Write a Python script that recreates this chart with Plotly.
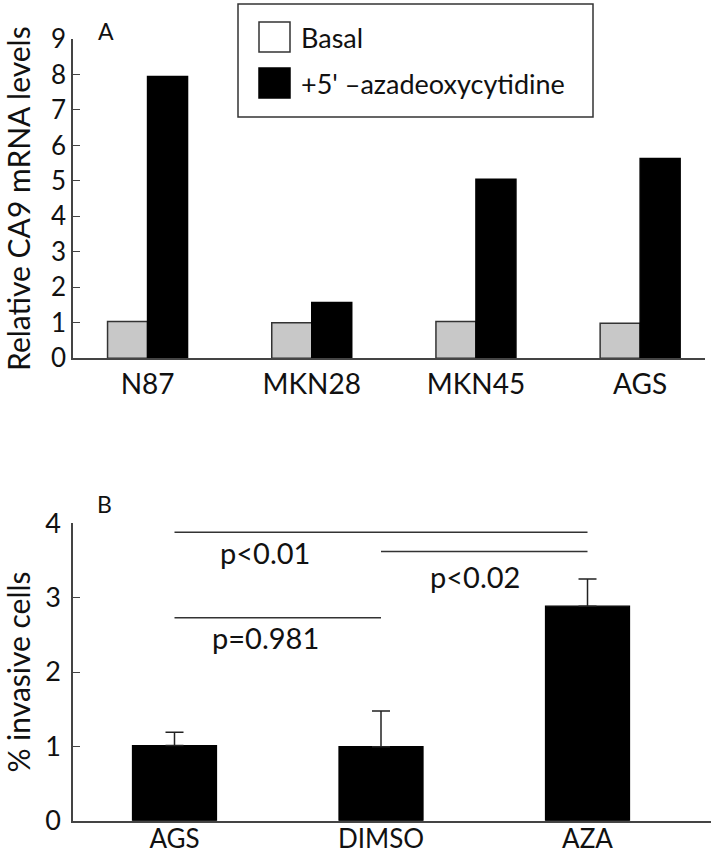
import plotly.graph_objects as go

# ---------------- data ----------------
cell_lines = ["N87", "MKN28", "MKN45", "AGS"]
basal = [1.04, 1.00, 1.04, 0.99]
aza_treated = [7.94, 1.57, 5.05, 5.63]
series_names = ["Basal", "+5' \u2013azadeoxycytidine"]

groups = ["AGS", "DIMSO", "AZA"]
invasive = [1.01, 0.995, 2.885]
invasive_err = [0.18, 0.48, 0.365]

# comparisons: (from group, to group, line level, label, label x, label y)
comparisons = [
    ("AGS", "AZA", 3.88, "p<0.01", 0.44, 3.61),
    ("DIMSO", "AZA", 3.62, "p<0.02", 1.455, 3.28),
    ("AGS", "DIMSO", 2.73, "p=0.981", 0.44, 2.47),
]

W, H = 716, 853
FONT = "Lato"
INK = "#111111"
AX = "#444444"

def px(x):
    return x / W

def py(y):
    return 1 - y / H

fig = go.Figure()

bw = 0.2436
fig.add_trace(go.Bar(
    x=cell_lines, y=basal, name=series_names[0],
    marker=dict(color="#c8c8c8", line=dict(color="#333333", width=1.5)),
    width=bw, offset=-bw, xaxis="x", yaxis="y", showlegend=False))
fig.add_trace(go.Bar(
    x=cell_lines, y=aza_treated, name=series_names[1],
    marker=dict(color="#000000", line=dict(color="#000000", width=1.5)),
    width=bw, offset=0, xaxis="x", yaxis="y", showlegend=False))

fig.add_trace(go.Bar(
    x=groups, y=invasive, name="% invasive",
    marker=dict(color="#000000", line=dict(color="#000000", width=1.2)),
    width=0.407,
    error_y=dict(type="data", array=invasive_err, arrayminus=[0] * len(groups),
                 symmetric=False, color="#222222", thickness=1.5, width=9),
    xaxis="x2", yaxis="y2", showlegend=False))

shapes = []
annotations = []
for a, b, lvl, lab, lx, ly in comparisons:
    shapes.append(dict(type="line", xref="x2", yref="y2",
                       x0=groups.index(a), x1=groups.index(b), y0=lvl, y1=lvl,
                       line=dict(color="#333333", width=1.5)))
    annotations.append(dict(xref="x2", yref="y2", x=lx, y=ly, text=lab,
                            showarrow=False, font=dict(family=FONT, size=29, color=INK)))

# manual legend (large square keys as in the original)
shapes.append(dict(type="rect", xref="paper", yref="paper",
                   x0=px(238), x1=px(593), y0=py(117), y1=py(4),
                   line=dict(color="#333333", width=1.5), fillcolor="white"))
shapes.append(dict(type="rect", xref="paper", yref="paper",
                   x0=px(259), x1=px(290), y0=py(52), y1=py(22),
                   line=dict(color="#333333", width=1.5), fillcolor="white"))
shapes.append(dict(type="rect", xref="paper", yref="paper",
                   x0=px(259), x1=px(290), y0=py(98), y1=py(68),
                   line=dict(color="#000000", width=1.5), fillcolor="black"))
annotations.append(dict(xref="paper", yref="paper", x=px(299), y=py(37),
                        xanchor="left", yanchor="middle", text=series_names[0],
                        showarrow=False, font=dict(family=FONT, size=27, color=INK)))
annotations.append(dict(xref="paper", yref="paper", x=px(299), y=py(83),
                        xanchor="left", yanchor="middle", text=series_names[1],
                        showarrow=False, font=dict(family=FONT, size=27, color=INK)))

annotations.append(dict(xref="paper", yref="paper", x=px(96), y=py(15), text="A",
                        showarrow=False, font=dict(family=FONT, size=23, color=INK)))
annotations.append(dict(xref="paper", yref="paper", x=px(95), y=py(504), text="B",
                        showarrow=False, font=dict(family=FONT, size=23, color=INK)))

axis_common = dict(showline=True, linecolor=AX, linewidth=1.5, showgrid=False,
                   zeroline=False, color=INK, automargin=False)

fig.update_layout(
    template="none",
    width=W, height=H,
    margin=dict(l=0, r=0, t=0, b=0, pad=0, autoexpand=False),
    paper_bgcolor="white", plot_bgcolor="white",
    barmode="overlay",
    showlegend=False,
    font=dict(family=FONT, color=INK),
    xaxis=dict(domain=[px(73), px(705)], anchor="y", range=[-0.454, 3.395],
               ticks="", ticklen=0, tickfont=dict(size=28), **axis_common),
    yaxis=dict(domain=[py(358.3), py(39)], anchor="x", range=[0, 9],
               tickmode="linear", tick0=0, dtick=1, ticks="inside", ticklen=7,
               tickcolor=AX, tickfont=dict(size=26),
               title=dict(text="Relative CA9 mRNA levels", font=dict(size=30), standoff=12),
               **axis_common),
    xaxis2=dict(domain=[px(73), px(711)], anchor="y2", range=[-0.4915, 2.598],
                ticks="", ticklen=0, tickfont=dict(size=26), ticklabelstandoff=-6,
                **axis_common),
    yaxis2=dict(domain=[py(820.7), py(523.3)], anchor="x2", range=[0, 4],
                tickmode="linear", tick0=0, dtick=1, ticks="inside", ticklen=7,
                tickcolor=AX, tickfont=dict(size=27), ticklabelstandoff=5,
                title=dict(text="% invasive cells", font=dict(size=30), standoff=18),
                **axis_common),
    shapes=shapes,
    annotations=annotations,
)

fig.write_html("out.html",
               config={"displayModeBar": False},
               post_script="document.body.style.margin='0px';document.body.style.overflow='hidden';")
